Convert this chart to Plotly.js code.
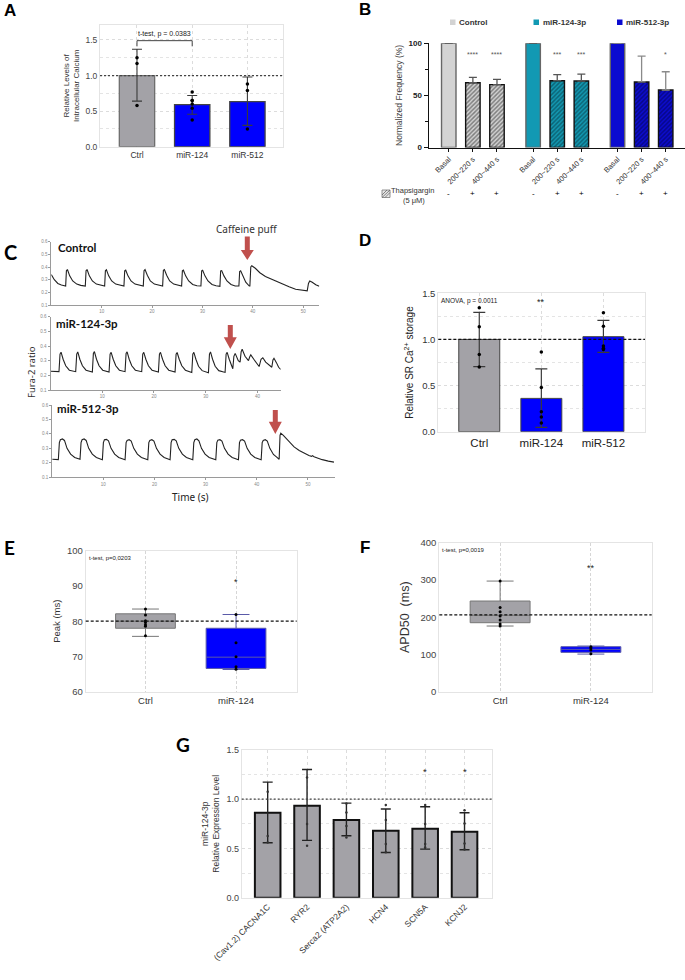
<!DOCTYPE html>
<html><head><meta charset="utf-8">
<script src="https://cdn.plot.ly/plotly-3.0.1.min.js"></script>
<style>html,body{margin:0;padding:0;background:#fff}#chart{width:685px;height:980px}</style>
</head><body><div id="chart"></div>
<script>
// ---------------- DATA ----------------
// Panel A
const catsA = ['Ctrl', 'miR-124', 'miR-512'];
const meanA = [1.0, 0.59, 0.634];
const lowA = [0.64, 0.455, 0.30];
const highA = [1.37, 0.72, 0.98];
const ptsA = [[1.25, 1.17, 0.58], [0.77, 0.65, 0.65, 0.60, 0.54, 0.375], [0.88, 0.79, 0.25]];
const testA = 't-test, p = 0.0383';

// Panel B
const groupsB = ['Control', 'miR-124-3p', 'miR-512-3p'];
const timesB = ['Basal', '200~220 s', '400~440 s'];
const thapsiB = ['-', '+', '+'];
const freqControl = [100, 62.2, 60.3];
const freq124 = [100, 64.1, 63.8];
const freq512 = [100, 62.9, 55.2];
const semControl = [0, 5.1, 5.1];
const sem124 = [0, 5.8, 6.7];
const sem512 = [0, 24.7, 17.5];
const starsControl = ['', '****', '****'];
const stars124 = ['', '***', '***'];
const stars512 = ['', '', '*'];

// Panel C (Fura-2 ratio traces, time in s)
const ctrlT = [0, 0.6, 1.3, 2.0,
  2.85, 3.0, 3.2, 3.65, 4.25, 5.05, 5.85,
  6.75, 6.9, 7.1, 7.55, 8.15, 8.95, 9.75,
  10.59, 10.74, 10.94, 11.39, 11.99, 12.79, 13.6,
  14.42, 14.57, 14.77, 15.22, 15.82, 16.62, 17.4,
  18.26, 18.41, 18.61, 19.06, 19.66, 20.46, 21.3,
  22.1, 22.25, 22.45, 22.9, 23.5, 24.3, 25.1,
  25.87, 26.02, 26.22, 26.67, 27.27, 28.07, 28.9,
  29.7, 29.85, 30.05, 30.5, 31.1, 31.9, 32.7,
  33.47, 33.62, 33.82, 34.27, 34.87, 35.67, 36.5,
  37.24, 37.39, 37.59, 38.0, 38.6, 39.3,
  39.42, 39.6, 39.8, 40.5, 41.4, 42.5, 43.9, 45.5, 47.2, 48.5, 49.8, 50.8,
  51.05, 51.3, 51.8, 52.5, 53.2];
const ctrlV = [0.34, 0.30, 0.27, 0.258,
  0.25, 0.37, 0.38, 0.33, 0.29, 0.265, 0.255,
  0.25, 0.37, 0.38, 0.33, 0.29, 0.265, 0.255,
  0.25, 0.37, 0.378, 0.33, 0.29, 0.265, 0.255,
  0.25, 0.37, 0.375, 0.33, 0.29, 0.265, 0.255,
  0.25, 0.37, 0.38, 0.335, 0.29, 0.265, 0.255,
  0.25, 0.375, 0.38, 0.335, 0.29, 0.265, 0.255,
  0.25, 0.37, 0.375, 0.33, 0.29, 0.262, 0.252,
  0.25, 0.37, 0.375, 0.33, 0.29, 0.262, 0.252,
  0.248, 0.37, 0.372, 0.33, 0.29, 0.262, 0.25,
  0.25, 0.365, 0.37, 0.33, 0.28, 0.25,
  0.25, 0.40, 0.41, 0.39, 0.355, 0.325, 0.30, 0.27, 0.245, 0.225, 0.215, 0.212,
  0.27, 0.29, 0.28, 0.26, 0.248];

const m124T = [0, 1.0,
  1.64, 1.84, 2.04, 2.44, 2.94, 3.64, 4.6,
  4.87, 5.07, 5.27, 5.67, 6.17, 6.87, 7.85,
  8.09, 8.29, 8.49, 8.89, 9.39, 10.09, 11.05,
  11.32, 11.52, 11.72, 12.12, 12.62, 13.32, 14.2,
  14.41, 14.61, 14.81, 15.21, 15.71, 16.41, 17.4,
  17.63, 17.83, 18.03, 18.43, 18.93, 19.63, 20.6,
  20.86, 21.06, 21.26, 21.66, 22.16, 22.86, 23.85,
  24.08, 24.28, 24.48, 24.88, 25.38, 26.08, 27.05,
  27.31, 27.51, 27.71, 28.11, 28.61, 29.31, 30.3,
  30.53, 30.73, 30.93, 31.33, 31.83, 32.53, 33.5,
  33.75, 33.95, 34.15, 34.55, 35.0, 35.24,
  35.45, 35.7, 36.3, 36.65, 36.85, 37.05, 37.6, 38.27, 38.5, 38.72, 39.3, 40.0, 40.33,
  40.7, 41.04, 41.6, 42.3, 42.78, 43.0, 43.2, 43.7, 44.1, 44.5];
const m124V = [0.228, 0.225,
  0.225, 0.345, 0.358, 0.31, 0.265, 0.235, 0.225,
  0.225, 0.345, 0.36, 0.31, 0.265, 0.235, 0.222,
  0.222, 0.35, 0.362, 0.31, 0.265, 0.235, 0.222,
  0.222, 0.345, 0.357, 0.31, 0.265, 0.235, 0.225,
  0.225, 0.35, 0.36, 0.31, 0.265, 0.235, 0.225,
  0.225, 0.345, 0.357, 0.31, 0.265, 0.235, 0.222,
  0.222, 0.345, 0.357, 0.31, 0.265, 0.235, 0.222,
  0.222, 0.345, 0.356, 0.31, 0.265, 0.235, 0.22,
  0.22, 0.345, 0.357, 0.31, 0.262, 0.232, 0.218,
  0.218, 0.345, 0.36, 0.31, 0.262, 0.232, 0.22,
  0.22, 0.345, 0.357, 0.31, 0.27, 0.245,
  0.33, 0.35, 0.30, 0.29, 0.36, 0.378, 0.33, 0.30, 0.325, 0.34, 0.31, 0.275, 0.26,
  0.31, 0.32, 0.29, 0.265, 0.255, 0.305, 0.316, 0.285, 0.255, 0.24];

const m512T = [0, 0.6,
  1.2, 1.4, 1.6, 2.0, 2.4, 2.9, 3.6, 4.4, 5.3,
  5.44, 5.64, 5.84, 6.24, 6.64, 7.14, 7.84, 8.64, 9.7,
  9.81, 10.01, 10.21, 10.61, 11.01, 11.51, 12.21, 13.01, 14.1,
  14.25, 14.45, 14.65, 15.05, 15.45, 15.95, 16.65, 17.45, 18.55,
  18.69, 18.89, 19.09, 19.49, 19.89, 20.39, 21.09, 21.89, 22.95,
  23.05, 23.25, 23.45, 23.85, 24.25, 24.75, 25.45, 26.25, 27.35,
  27.49, 27.69, 27.89, 28.29, 28.69, 29.19, 29.89, 30.69, 31.85,
  31.99, 32.19, 32.39, 32.79, 33.19, 33.69, 34.39, 35.19, 36.3,
  36.42, 36.62, 36.82, 37.22, 37.62, 38.12, 38.82, 39.62, 40.75,
  40.86, 41.06, 41.26, 41.66, 42.06, 42.56, 43.26, 43.9, 44.3,
  44.38, 44.55, 44.7, 45.2, 46.3, 47.3, 48.3, 49.3, 50.2, 50.7, 50.9, 51.2, 52.0, 52.8, 54.0, 55.1];
const m512V = [0.225, 0.222,
  0.222, 0.34, 0.36, 0.365, 0.355, 0.30, 0.26, 0.237, 0.225,
  0.225, 0.34, 0.36, 0.365, 0.355, 0.30, 0.26, 0.237, 0.222,
  0.222, 0.34, 0.36, 0.362, 0.352, 0.30, 0.26, 0.237, 0.222,
  0.222, 0.34, 0.355, 0.36, 0.35, 0.30, 0.26, 0.237, 0.222,
  0.222, 0.34, 0.355, 0.36, 0.35, 0.30, 0.26, 0.237, 0.222,
  0.222, 0.34, 0.36, 0.362, 0.352, 0.30, 0.26, 0.237, 0.222,
  0.222, 0.34, 0.36, 0.365, 0.352, 0.30, 0.26, 0.237, 0.222,
  0.222, 0.34, 0.357, 0.36, 0.35, 0.30, 0.26, 0.237, 0.222,
  0.222, 0.34, 0.357, 0.36, 0.35, 0.30, 0.26, 0.237, 0.222,
  0.222, 0.34, 0.355, 0.36, 0.35, 0.30, 0.258, 0.24, 0.225,
  0.225, 0.39, 0.405, 0.39, 0.345, 0.31, 0.285, 0.265, 0.25, 0.245, 0.25, 0.242, 0.23, 0.222, 0.212, 0.205];
const traceNamesC = ['Control', 'miR-124-3p', 'miR-512-3p'];

// Panel D
const catsD = ['Ctrl', 'miR-124', 'miR-512'];
const meanD = [1.0, 0.361, 1.03];
const lowD = [0.705, 0.047, 0.86];
const highD = [1.294, 0.68, 1.207];
const ptsD = [[1.344, 1.138, 0.838, 0.70], [0.864, 0.48, 0.217, 0.159, 0.094], [1.29, 1.142, 0.929, 0.904, 0.89]];
const starsD = ['', '**', ''];
const testD = 'ANOVA, p = 0.0011';

// Panel E (Peak, ms)
const catsE = ['Ctrl', 'miR-124'];
const peakQ1 = [78.0, 66.6];
const peakMed = [80.0, 69.8];
const peakQ3 = [82.1, 78.0];
const peakLo = [75.7, 66.3];
const peakHi = [83.45, 81.9];
const ptsE = [[83.45, 81.75, 80.1, 79.6, 79.0, 78.6, 75.9], [81.9, 73.9, 69.9, 67.1, 66.4]];
const starsE = ['', '*'];
const testE = 't-test, p=0,0203';

// Panel F (APD50, ms)
const apdQ1 = [185.2, 105.6];
const apdMed = [205, 113.6];
const apdQ3 = [243.4, 120.8];
const apdLo = [176.3, 101];
const apdHi = [297, 122.6];
const ptsF = [[297, 226, 214.8, 203, 192.4, 181.6, 176.3], [120.8, 117, 111.9, 102]];
const starsF = ['', '**'];
const testF = 't-test, p=0,0019';

// Panel G
const catsG = ['(Cav1.2) CACNA1C', 'RYR2', 'Serca2 (ATP2A2)', 'HCN4', 'SCN5A', 'KCNJ2'];
const meanG = [0.861, 0.932, 0.787, 0.679, 0.699, 0.669];
const lowG = [0.557, 0.581, 0.628, 0.459, 0.493, 0.486];
const highG = [1.172, 1.30, 0.959, 0.899, 0.922, 0.861];
const ptsG = [[1.074, 0.625, 0.56], [1.22, 0.747, 0.527], [0.956, 0.865, 0.726, 0.611], [0.939, 0.787, 0.544, 0.46], [0.939, 0.747, 0.544, 0.51], [0.888, 0.753, 0.55, 0.49]];
const starsG = ['', '', '', '', '*', '*'];

// reference levels (dotted lines)
const refA = 1.0, refD = 1.0, refE = 80, refF = 206, refG = 1.0;

// ---------------- STYLE / LAYOUT HELPERS ----------------
const W = 685, H = 980;
const X = v => v / W;
const Y = v => 1 - v / H;
const dx = (l, r) => [l / W, r / W];
const dy = (t, b) => [1 - b / H, 1 - t / H];
const FONT = 'Liberation Sans, Arial, sans-serif';
const GRAY = '#a3a2a7', BLUE = '#0000fe';
const colB = ['#d3d3d3', '#1299b3', '#0b0bd0'];
const hatchB = ['#2a2a2a', '#07303a', '#03033f'];

function errs(mean, low, high, color, thick, w) {
  return {type: 'data', symmetric: false, array: high.map((h, i) => h - mean[i]),
    arrayminus: mean.map((m, i) => m - low[i]), color: color, thickness: thick, width: w};
}
function points(cats, pts, xa, ya, size, color) {
  const x = [], y = [];
  pts.forEach((arr, i) => arr.forEach(v => { x.push(cats[i]); y.push(v); }));
  return {type: 'scatter', mode: 'markers', x: x, y: y, xaxis: xa, yaxis: ya,
    marker: {size: size, color: color}, hoverinfo: 'skip', cliponaxis: false};
}
function gg(dom, range, o) {
  return Object.assign({domain: dom, range: range, showline: true, mirror: true, linecolor: '#e4e4e4',
    linewidth: 1, zeroline: false, showgrid: true, gridcolor: '#dcdcdc', griddash: 'dot', gridwidth: 1,
    ticks: '', fixedrange: true, tickfont: {size: 8.5, color: '#333', family: FONT}}, o);
}
function cAx(dom, range, tv, anchor) {
  return {domain: dom, range: range, anchor: anchor, showline: true, linecolor: '#9a9a9a', linewidth: 1,
    ticks: 'outside', ticklen: 2, tickcolor: '#9a9a9a', tickvals: tv, tickfont: {size: 4.5, color: '#888'},
    showgrid: false, zeroline: false, fixedrange: true};
}
function arrow(cx, top, headTop, tip, sw, hw) {
  const p = [[cx - sw / 2, top], [cx + sw / 2, top], [cx + sw / 2, headTop], [cx + hw / 2, headTop],
    [cx, tip], [cx - hw / 2, headTop], [cx - sw / 2, headTop]];
  return {type: 'path', xref: 'paper', yref: 'paper',
    path: 'M' + p.map(q => X(q[0]).toFixed(5) + ',' + Y(q[1]).toFixed(5)).join(' L') + ' Z',
    fillcolor: '#c0504d', line: {width: 0}};
}

const traces = [];
const shapes = [];
const ann = [];
function txt(text, x, y, o) {
  ann.push(Object.assign({text: text, x: x, y: y, xref: 'paper', yref: 'paper', showarrow: false,
    xanchor: 'center', yanchor: 'middle', font: {family: FONT, size: 8, color: '#333'}}, o));
}
function dataTxt(text, xa, ya, x, y, size) {
  ann.push({text: text, xref: xa, yref: ya, x: x, y: y, showarrow: false, xanchor: 'center', yanchor: 'middle',
    font: {family: FONT, size: size, color: '#222'}});
}
function hline(ax, yv, color, dash) {
  shapes.push({type: 'line', xref: (ax === 1 ? 'x' : 'x' + ax) + ' domain', yref: ax === 1 ? 'y' : 'y' + ax,
    x0: 0, x1: 1, y0: yv, y1: yv, line: {color: color, width: 1.2, dash: dash}});
}

// ---------------- PANEL A ----------------
traces.push({type: 'bar', x: catsA, y: meanA, xaxis: 'x', yaxis: 'y', width: 0.64,
  marker: {color: [GRAY, BLUE, BLUE], line: {color: ['#6e6e6e', '#444', '#444'], width: 1.3}},
  error_y: errs(meanA, lowA, highA, '#3a3a3a', 1.1, 5), hoverinfo: 'skip'});
traces.push(points(catsA, ptsA, 'x', 'y', 3.5, '#000'));
hline(1, refA, '#444', '2px,2px');
shapes.push({type: 'line', xref: 'x', yref: 'y', x0: 0, x1: 1, y0: 1.49, y1: 1.49, line: {color: '#444', width: 1}});
shapes.push({type: 'line', xref: 'x', yref: 'y', x0: 0, x1: 0, y0: 1.41, y1: 1.49, line: {color: '#444', width: 1}});
shapes.push({type: 'line', xref: 'x', yref: 'y', x0: 1, x1: 1, y0: 1.41, y1: 1.49, line: {color: '#444', width: 1}});
dataTxt(testA, 'x', 'y', 0.5, 1.585, 7);

// ---------------- PANEL B ----------------
const freqB = [freqControl, freq124, freq512];
const semB = [semControl, sem124, sem512];
const starsB = [starsControl, stars124, stars512];
const posB = [], labB = [];
groupsB.forEach((g, gi) => {
  const xs = timesB.map((t, i) => gi * 3.5 + i);
  xs.forEach((x, i) => { posB.push(x); labB.push(timesB[i]); });
  traces.push({type: 'bar', x: xs, y: freqB[gi], xaxis: 'x2', yaxis: 'y2', width: 0.6, name: g,
    marker: {color: colB[gi], line: {color: ['#666', '#111', '#111'], width: 1.4},
      pattern: {shape: ['', '/', '/'], fillmode: 'overlay', fgcolor: hatchB[gi], size: 3, solidity: 0.5}},
    error_y: {type: 'data', symmetric: false, array: semB[gi], arrayminus: [0, 0, 0],
      color: gi === 2 ? '#8a8a8a' : '#555', thickness: 1.3, width: 4}, hoverinfo: 'skip'});
  xs.forEach((x, i) => {
    if (starsB[gi][i]) ann.push({text: starsB[gi][i], xref: 'x2', yref: 'y2', x: x, y: 89.5, showarrow: false,
      xanchor: 'center', yanchor: 'middle', font: {family: FONT, size: 7, color: '#555'}});
    ann.push({text: thapsiB[i], xref: 'x2', yref: 'paper', x: x, y: Y(193), showarrow: false,
      xanchor: 'center', yanchor: 'middle', font: {family: FONT, size: 8, color: '#000'}});
  });
  shapes.push({type: 'rect', xref: 'paper', yref: 'paper', x0: X(450 + gi * 83.5), x1: X(455.5 + gi * 83.5),
    y0: Y(25), y1: Y(19.5), fillcolor: colB[gi], line: {width: 0}});
  txt('<b>' + g + '</b>', X(457 + gi * 83.5), Y(22.3), {xanchor: 'left', font: {family: FONT, size: 8, color: '#333'}});
});
txt('Thapsigargin', X(412), Y(190), {font: {family: FONT, size: 7.5, color: '#333'}});
txt('(5 \u03bcM)', X(414), Y(200.5), {font: {family: FONT, size: 7.5, color: '#333'}});
shapes.push({type: 'rect', xref: 'paper', yref: 'paper', x0: X(382), x1: X(390), y0: Y(197.5), y1: Y(190),
  fillcolor: '#e6e6e6', line: {color: '#777', width: 0.8}});
[[382, 195, 387, 190], [382, 197.5, 390, 190], [385, 197.5, 390, 192.5]].forEach(s =>
  shapes.push({type: 'line', xref: 'paper', yref: 'paper', x0: X(s[0]), y0: Y(s[1]), x1: X(s[2]), y1: Y(s[3]),
    line: {color: '#666', width: 0.8}}));

// ---------------- PANEL C ----------------
const cData = [[ctrlT, ctrlV, 'x3', 'y3'], [m124T, m124V, 'x4', 'y4'], [m512T, m512V, 'x5', 'y5']];
cData.forEach((c, i) => traces.push({type: 'scatter', mode: 'lines', x: c[0], y: c[1], xaxis: c[2], yaxis: c[3],
  name: traceNamesC[i], line: {color: '#222', width: 1.1}, hoverinfo: 'skip'}));
txt('<b>' + traceNamesC[0] + '</b>', X(56), Y(247.5), {xanchor: 'left', font: {family: 'Lato, sans-serif', size: 11.5, color: '#111'}});
txt('<b>' + traceNamesC[1] + '</b>', X(54), Y(323.5), {xanchor: 'left', font: {family: 'Lato, sans-serif', size: 11.5, color: '#111'}});
txt('<b>' + traceNamesC[2] + '</b>', X(55), Y(408.5), {xanchor: 'left', font: {family: 'Lato, sans-serif', size: 11.5, color: '#111'}});
txt('Caffeine puff', X(247), Y(229), {font: {family: 'Noto Sans, sans-serif', size: 10, color: '#333'}});
txt('Fura-2 ratio', X(31), Y(372), {textangle: -90, font: {family: 'Noto Sans, sans-serif', size: 9.5, color: '#333'}});
txt('Time (s)', X(190), Y(497), {font: {family: 'Noto Sans, sans-serif', size: 10, color: '#222'}});
shapes.push(arrow(247.3, 236.5, 250, 260, 5, 13));
shapes.push(arrow(230.3, 325, 337.3, 349, 5, 13));
shapes.push(arrow(275.3, 410, 421.7, 434, 5, 13));

// ---------------- PANEL D ----------------
traces.push({type: 'bar', x: catsD, y: meanD, xaxis: 'x6', yaxis: 'y6', width: 0.66,
  marker: {color: [GRAY, BLUE, BLUE], line: {color: '#444', width: 1}},
  error_y: errs(meanD, lowD, highD, '#3a3a3a', 1.2, 6), hoverinfo: 'skip'});
traces.push(points(catsD, ptsD, 'x6', 'y6', 3.5, '#000'));
hline(6, refD, '#111', '3px,2px');
catsD.forEach((c, i) => { if (starsD[i]) dataTxt(starsD[i], 'x6', 'y6', c, 1.405, 9); });
ann.push({text: testD, xref: 'x6 domain', yref: 'y6 domain', x: 0.005, y: 0.985, xanchor: 'left', yanchor: 'top', showarrow: false, font: {family: FONT, size: 6.5, color: '#222'}});

// ---------------- PANEL E ----------------
const boxColors = [GRAY, BLUE], boxLines = ['#777', '#5a5aa8'];
catsE.forEach((c, i) => traces.push({type: 'box', x: [c], q1: [peakQ1[i]], median: [peakMed[i]], q3: [peakQ3[i]],
  lowerfence: [peakLo[i]], upperfence: [peakHi[i]], xaxis: 'x7', yaxis: 'y7', width: 0.66, whiskerwidth: 0.45,
  fillcolor: boxColors[i], line: {color: boxLines[i], width: 1}, boxpoints: false, hoverinfo: 'skip'}));
traces.push(points(catsE, ptsE, 'x7', 'y7', 3, '#000'));
hline(7, refE, '#111', '3px,2px');
catsE.forEach((c, i) => { if (starsE[i]) dataTxt(starsE[i], 'x7', 'y7', c, 91.2, 9); });
ann.push({text: testE, xref: 'x7 domain', yref: 'y7 domain', x: 0.004, y: 0.985, xanchor: 'left', yanchor: 'top', showarrow: false, font: {family: FONT, size: 6, color: '#222'}});

// ---------------- PANEL F ----------------
catsE.forEach((c, i) => traces.push({type: 'box', x: [c], q1: [apdQ1[i]], median: [apdMed[i]], q3: [apdQ3[i]],
  lowerfence: [apdLo[i]], upperfence: [apdHi[i]], xaxis: 'x8', yaxis: 'y8', width: 0.66, whiskerwidth: 0.45,
  fillcolor: boxColors[i], line: {color: boxLines[i], width: 1}, boxpoints: false, hoverinfo: 'skip'}));
traces.push(points(catsE, ptsF, 'x8', 'y8', 3, '#000'));
hline(8, refF, '#111', '3px,2px');
catsE.forEach((c, i) => { if (starsF[i]) dataTxt(starsF[i], 'x8', 'y8', c, 331, 9); });
ann.push({text: testF, xref: 'x8 domain', yref: 'y8 domain', x: 0.004, y: 0.985, xanchor: 'left', yanchor: 'top', showarrow: false, font: {family: FONT, size: 6, color: '#222'}});

// ---------------- PANEL G ----------------
traces.push({type: 'bar', x: catsG, y: meanG, xaxis: 'x9', yaxis: 'y9', width: 0.65,
  marker: {color: GRAY, line: {color: '#111', width: 2}},
  error_y: errs(meanG, lowG, highG, '#222', 1.4, 5), hoverinfo: 'skip'});
traces.push(points(catsG, ptsG, 'x9', 'y9', 2.5, '#333'));
hline(9, refG, '#444', '2px,2px');
catsG.forEach((c, i) => { if (starsG[i]) dataTxt(starsG[i], 'x9', 'y9', c, 1.277, 9.5); });

// panel letters
txt('<b>A</b>', X(2), Y(10), {xanchor: 'left', font: {family: FONT, size: 17, color: '#000'}});
txt('<b>B</b>', X(357), Y(9), {xanchor: 'left', font: {family: FONT, size: 17, color: '#000'}});
txt('<b>C</b>', X(2), Y(252), {xanchor: 'left', font: {family: 'Lato, sans-serif', size: 20, color: '#000'}});
txt('<b>D</b>', X(357), Y(241), {xanchor: 'left', font: {family: FONT, size: 17, color: '#000'}});
txt('<b>E</b>', X(2), Y(547), {xanchor: 'left', font: {family: 'Lato, sans-serif', size: 19, color: '#000'}});
txt('<b>F</b>', X(358), Y(547), {xanchor: 'left', font: {family: FONT, size: 17, color: '#000'}});
txt('<b>G</b>', X(174), Y(744), {xanchor: 'left', font: {family: 'Lato, sans-serif', size: 19, color: '#000'}});

// ---------------- LAYOUT ----------------
const minorGrid = {dtick: 0.25, showgrid: true, gridcolor: '#e4e4e4', griddash: 'dot', gridwidth: 1};
const layout = {
  width: W, height: H, margin: {l: 0, r: 0, t: 0, b: 0}, paper_bgcolor: '#fff', plot_bgcolor: 'rgba(0,0,0,0)',
  showlegend: false, barmode: 'overlay', boxmode: 'overlay', font: {family: FONT},
  xaxis: gg(dx(100, 283.3), [-0.67, 2.65], {type: 'category', anchor: 'y', tickfont: {size: 8.5, color: '#333'}}),
  yaxis: gg(dy(25, 146.7), [0, 1.71], {anchor: 'x', tickvals: [0, 0.5, 1, 1.5], tickformat: '.1f', minor: minorGrid,
    tickfont: {size: 8.5, color: '#444'},
    title: {text: 'Relative Levels of<br>Intracellular Calcium', font: {size: 8, color: '#333'}, standoff: 4}}),
  xaxis2: {domain: dx(429, 685), range: [-0.82, 9.8], anchor: 'y2', showline: true, linecolor: '#111', linewidth: 1.5,
    ticks: 'outside', ticklen: 3, tickcolor: '#111', tickvals: posB, ticktext: labB, tickangle: -45,
    tickfont: {size: 7.5, color: '#333'}, showgrid: false, zeroline: false, fixedrange: true},
  yaxis2: {domain: dy(43.3, 147.5), range: [0, 100], anchor: 'x2', showline: true, linecolor: '#111', linewidth: 1.5,
    ticks: 'outside', ticklen: 4, tickcolor: '#111', tickvals: [0, 50, 100],
    tickfont: {size: 8, color: '#222', weight: 'bold'}, showgrid: false, zeroline: false, fixedrange: true,
    minor: {tickvals: [25, 75], ticks: 'outside', ticklen: 2.5, tickcolor: '#111'},
    title: {text: 'Normalized Frequency (%)', font: {size: 8.5, color: '#444'}, standoff: 4}},
  xaxis3: cAx(dx(51.3, 319.3), [0, 53.2], [10, 20, 30, 40, 50], 'y3'),
  yaxis3: cAx(dy(241.7, 305), [0.1, 0.6], [0.1, 0.2, 0.3, 0.4, 0.5, 0.6], 'x3'),
  xaxis4: cAx(dx(50.5, 280.7), [0, 44.5], [10, 20, 30, 40], 'y4'),
  yaxis4: cAx(dy(316.7, 390), [0.1, 0.6], [0.1, 0.2, 0.3, 0.4, 0.5, 0.6], 'x4'),
  xaxis5: cAx(dx(52.2, 335), [0, 55.3], [10, 20, 30, 40, 50], 'y5'),
  yaxis5: cAx(dy(405, 477.3), [0.1, 0.6], [0.1, 0.2, 0.3, 0.4, 0.5, 0.6], 'x5'),
  xaxis6: gg(dx(438.3, 645), [-0.66, 2.67], {type: 'category', anchor: 'y6', tickfont: {size: 11.5, color: '#222'}}),
  yaxis6: gg(dy(293.3, 431.7), [0, 1.5], {anchor: 'x6', tickvals: [0, 0.5, 1, 1.5], tickformat: '.1f', minor: minorGrid,
    tickfont: {size: 9.5, color: '#333'},
    title: {text: 'Relative SR Ca<sup>2+</sup> storage', font: {size: 10, color: '#222'}, standoff: 6}}),
  xaxis7: gg(dx(85.7, 296.7), [-0.66, 1.67], {type: 'category', anchor: 'y7', gridcolor: '#d6d6d6', griddash: '3px,2px',
    tickfont: {size: 9.5, color: '#333'}}),
  yaxis7: gg(dy(550.7, 691.7), [60, 100], {anchor: 'x7', dtick: 10, showgrid: false, tickfont: {size: 9.5, color: '#444'},
    title: {text: 'Peak (ms)', font: {size: 9.5, color: '#333'}, standoff: 4}}),
  xaxis8: gg(dx(439.3, 651.7), [-0.67, 1.67], {type: 'category', anchor: 'y8', gridcolor: '#d6d6d6', griddash: '3px,2px',
    tickfont: {size: 9.5, color: '#333'}}),
  yaxis8: gg(dy(542.7, 691.7), [0, 400], {anchor: 'x8', dtick: 100, showgrid: false, tickfont: {size: 9.5, color: '#444'},
    title: {text: 'APD50  (ms)', font: {size: 12.5, color: '#333'}, standoff: 8}}),
  xaxis9: gg(dx(241.7, 491.7), [-0.66, 5.69], {type: 'category', anchor: 'y9', tickangle: -45,
    tickfont: {size: 8.5, color: '#333'}}),
  yaxis9: gg(dy(749.8, 897.7), [0, 1.5], {anchor: 'x9', tickvals: [0, 0.5, 1, 1.5], tickformat: '.1f', minor: minorGrid,
    tickfont: {size: 9, color: '#444'},
    title: {text: 'miR-124-3p<br>Relative Expression Level', font: {size: 8.5, color: '#333'}, standoff: 5}}),
  shapes: shapes, annotations: ann
};
Plotly.newPlot('chart', traces, layout, {staticPlot: true, displayModeBar: false});
</script></body></html>
